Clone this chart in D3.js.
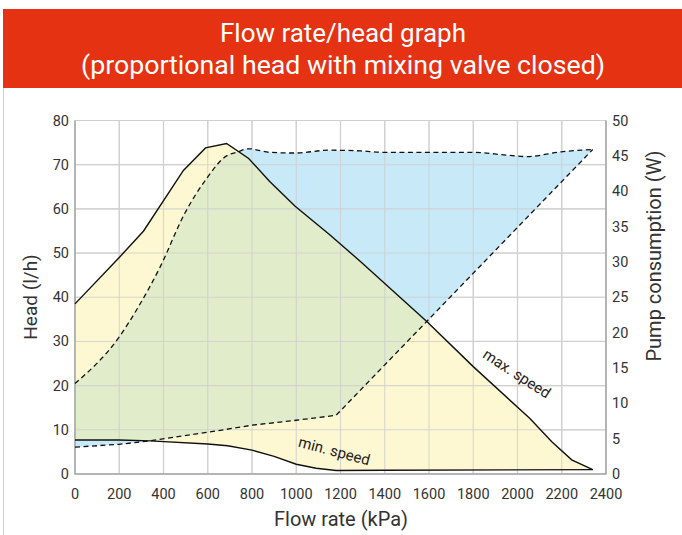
<!DOCTYPE html>
<html><head><meta charset="utf-8">
<script src="https://cdn.jsdelivr.net/npm/d3@7"></script>
<style>body{margin:0;background:#fff;} svg{display:block;font-family:Roboto, "DejaVu Sans", sans-serif;}</style>
</head><body>
<script>
// ---- data ----
const titleLines = ["Flow rate/head graph", "(proportional head with mixing valve closed)"];
const xTicks = [0,200,400,600,800,1000,1200,1400,1600,1800,2000,2200,2400];
const headTicks = [0,10,20,30,40,50,60,70,80];
const powerTicks = [0,5,10,15,20,25,30,35,40,45,50];
// head curves [flow, head]
const headMax = [[0,38.5],[200,49],[310,55],[490,68.7],[590,73.8],[685,74.8],[785,71.4],[880,66.2],[995,60.6],[1150,54.2],[1290,48.1],[1590,34.5],[1800,24.3],[2055,12.6],[2155,7.3],[2245,3.2],[2340,1.0]];
const headMin = [[0,7.7],[200,7.7],[340,7.5],[600,6.8],[690,6.4],[800,5.4],[900,4.0],[1000,2.2],[1090,1.3],[1180,0.8],[1400,0.85],[2340,1.0]];
// power curves [flow, W]
const powerMax = [[0,12.8],[200,19.4],[280,23.3],[385,29.3],[495,36.8],[595,41.8],[685,45.0],[730,45.5],[785,46.0],[880,45.5],[995,45.4],[1150,45.8],[1290,45.7],[1395,45.5],[1590,45.5],[1800,45.5],[1950,45.1],[2040,44.9],[2205,45.6],[2340,45.9]];
const powerMin = [[0,3.8],[200,4.2],[340,4.7],[600,5.9],[800,6.9],[1000,7.6],[1180,8.3],[2340,45.9]];

const W = 682, H = 535;
const svg = d3.select("body").append("svg").attr("width", W).attr("height", H);

// frame
svg.append("rect").attr("x",3.5).attr("y",9.5).attr("width",W).attr("height",H).attr("fill","none").attr("stroke","#cfcfcf");
svg.append("rect").attr("x",3).attr("y",9).attr("width",W-3).attr("height",79).attr("fill","#e53212");
svg.selectAll("text.title").data(titleLines).join("text")
  .attr("x",343).attr("y",(d,i)=>42+i*32).attr("text-anchor","middle")
  .attr("fill","#fff").attr("font-size",25).attr("font-weight",400)
  .attr("textLength",(d,i)=>i===0?246:524).attr("lengthAdjust","spacingAndGlyphs").text(d=>d);

const x = d3.scaleLinear().domain([0,2400]).range([75,606]);
const yH = d3.scaleLinear().domain([0,80]).range([474,120.5]);
const yP = d3.scaleLinear().domain([0,50]).range([474,120.5]);

const g = svg.append("g");
// grid
g.selectAll("line.vg").data(xTicks).join("line")
  .attr("x1",d=>x(d)).attr("x2",d=>x(d)).attr("y1",yH(0)).attr("y2",yH(80)).attr("stroke","#d2d2d2").attr("stroke-width",1.2);
g.selectAll("line.hg").data(headTicks).join("line")
  .attr("x1",x(0)).attr("x2",x(2400)).attr("y1",d=>yH(d)).attr("y2",d=>yH(d)).attr("stroke","#d2d2d2").attr("stroke-width",1.2);

// areas
const lineH = d3.line().x(d=>x(d[0])).y(d=>yH(d[1]));
const lineP = d3.line().x(d=>x(d[0])).y(d=>yP(d[1]));
const lineP2 = d3.line().x(d=>x(d[0])).y(d=>yP(d[1])).curve(d3.curveMonotoneX);
const headRegion = lineH(headMax) + "L" + lineH(headMin.slice().reverse()).slice(1) + "Z";
const powerRegion = lineP2(powerMax) + "L" + lineP(powerMin.slice().reverse()).slice(1) + "Z";

const defs = svg.append("defs");
defs.append("clipPath").attr("id","headClip").append("path").attr("d",headRegion);

g.append("path").attr("d",headRegion).attr("fill","#fdf8cf").attr("opacity",0.97);
g.append("path").attr("d",powerRegion).attr("fill","#c6e8f7").attr("opacity",0.97);
g.append("path").attr("d",powerRegion).attr("fill","#e0ecca").attr("clip-path","url(#headClip)");

// redraw grid faintly over fills
g.selectAll("line.vg2").data(xTicks).join("line")
  .attr("x1",d=>x(d)).attr("x2",d=>x(d)).attr("y1",yH(0)).attr("y2",yH(80)).attr("stroke","#cfcfcf").attr("stroke-width",1.1).attr("opacity",0.8);
g.selectAll("line.hg2").data(headTicks).join("line")
  .attr("x1",x(0)).attr("x2",x(2400)).attr("y1",d=>yH(d)).attr("y2",d=>yH(d)).attr("stroke","#cfcfcf").attr("stroke-width",1.1).attr("opacity",0.8);

// axes frame
g.append("path").attr("d",`M${x(0)},${yH(80)}V${yH(0)}H${x(2400)}V${yH(80)}`).attr("fill","none").attr("stroke","#a8a8a8").attr("stroke-width",1.5);

// curves
g.append("path").attr("d",lineH(headMax)).attr("fill","none").attr("stroke","#111").attr("stroke-width",1.4);
g.append("path").attr("d",lineH(headMin)).attr("fill","none").attr("stroke","#111").attr("stroke-width",1.4);
g.append("path").attr("d",lineP2(powerMax)).attr("fill","none").attr("stroke","#111").attr("stroke-width",1.3).attr("stroke-dasharray","5,3.5");
g.append("path").attr("d",lineP(powerMin)).attr("fill","none").attr("stroke","#111").attr("stroke-width",1.3).attr("stroke-dasharray","5,3.5");

// tick labels
const tc = "#333";
svg.selectAll("text.xt").data(xTicks).join("text").attr("x",d=>x(d)).attr("y",499).attr("text-anchor","middle").attr("font-size",14.5).attr("fill",tc).text(d=>d);
svg.selectAll("text.yt").data(headTicks).join("text").attr("x",69).attr("y",d=>yH(d)+5).attr("text-anchor","end").attr("font-size",14.5).attr("fill",tc).text(d=>d);
svg.selectAll("text.pt").data(powerTicks).join("text").attr("x",612).attr("y",d=>yP(d)+5).attr("text-anchor","start").attr("font-size",14.5).attr("fill",tc).text(d=>d);

// axis titles
svg.append("text").attr("x",341).attr("y",526).attr("text-anchor","middle").attr("font-size",20).attr("fill",tc).text("Flow rate (kPa)");
svg.append("text").attr("transform","translate(37,297) rotate(-90)").attr("text-anchor","middle").attr("font-size",19).attr("fill",tc).text("Head (l/h)");
svg.append("text").attr("transform","translate(661,256) rotate(-90)").attr("text-anchor","middle").attr("font-size",20).attr("fill",tc).text("Pump consumption (W)");

// annotations
svg.append("text").attr("transform","translate(333,456) rotate(15)").attr("text-anchor","middle").attr("font-size",15).attr("fill","#222").text("min. speed");
svg.append("text").attr("transform","translate(514,378) rotate(33)").attr("text-anchor","middle").attr("font-size",15).attr("fill","#222").text("max. speed");
</script>
</body></html>
